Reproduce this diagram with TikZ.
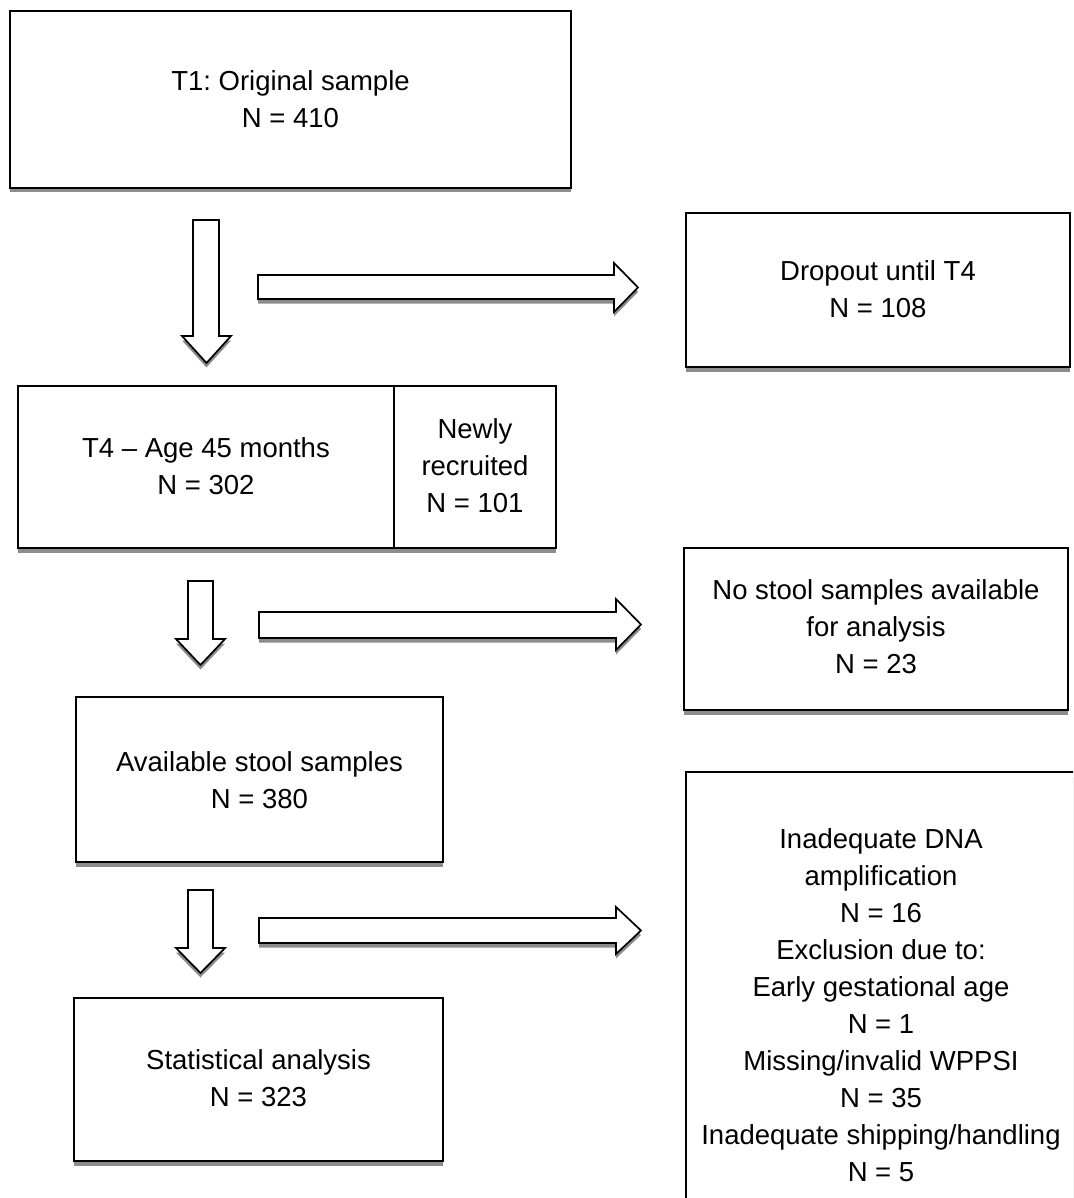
\documentclass[tikz,border=0pt]{standalone}
\usepackage{fontspec}
\setmainfont{Liberation Sans}
\frenchspacing
\usetikzlibrary{shadows}
\tikzset{
  shp/.style={draw=black, line width=1.7pt, fill=white, line join=miter,
    drop shadow={shadow xshift=0pt, shadow yshift=-4.5pt, fill=black!45, opacity=1}},
  lbl/.style={align=center, inner sep=0pt, font=\fontsize{27.5}{37}\selectfont}
}
% down block arrow: shaft x1 x2, top, head start, head xa xb, tip y
\newcommand{\dnarrow}[7]{%
  \path[shp] (#1,#3) -- (#2,#3) -- (#2,#4) -- (#6,#4) -- ({(#5+#6)/2},#7) -- (#5,#4) -- (#1,#4) -- cycle;}
% right block arrow: shaft y1 y2, left, head start, head ya yb, tip x
\newcommand{\rtarrow}[7]{%
  \path[shp] (#3,#1) -- (#4,#1) -- (#4,#5) -- (#7,{(#5+#6)/2}) -- (#4,#6) -- (#4,#2) -- (#3,#2) -- cycle;}
\begin{document}
\begin{tikzpicture}[x=1pt,y=-1pt]
\useasboundingbox (0,0) rectangle (1073,1198);
\clip (0,0) rectangle (1073,1198);
\fill[white] (0,0) rectangle (1073,1198);

% boxes
\path[shp] (10,11) rectangle (571,188);
\node[lbl] (t1) at (290.5,99) {T1: Original sample\\N = 410};

\path[shp] (686,213) rectangle (1070,367);
\node[lbl] (drop) at (878,289) {Dropout until T4\\N = 108};

\path[shp] (18,386) rectangle (556,548);
\draw[line width=1.2pt] (394,386) -- (394,548);
\node[lbl] (t4) at (206,466) {T4 -- Age 45 months\\N = 302};
\node[lbl] (new) at (475,466) {Newly\\recruited\\N = 101};

\path[shp] (684,548) rectangle (1068,710);
\node[lbl] (nostool) at (876,627) {No stool samples available\\for analysis\\N = 23};

\path[shp] (76,697) rectangle (443,862);
\node[lbl] (avail) at (259.5,780) {Available stool samples\\N = 380};

\path[shp] (74,998) rectangle (443,1161);
\node[lbl] (stat) at (258.5,1078) {Statistical analysis\\N = 323};

\path[shp] (686,772) rectangle (1090,1230);
\node[lbl] (excl) at (881,1005) {Inadequate DNA\\amplification\\N = 16\\Exclusion due to:\\Early gestational age\\N = 1\\Missing/invalid WPPSI\\N = 35\\Inadequate shipping/handling\\N = 5};

% block arrows
\dnarrow{193}{219}{220}{336}{182}{231}{363}
\dnarrow{188}{213}{581}{639}{176}{225}{665}
\dnarrow{188}{213}{890}{948}{176}{225}{973}
\rtarrow{275}{299}{258}{614}{263}{312}{638}
\rtarrow{612}{638}{259}{616}{599}{650}{641}
\rtarrow{918}{943}{259}{616}{907}{954}{641}
\end{tikzpicture}
\end{document}
